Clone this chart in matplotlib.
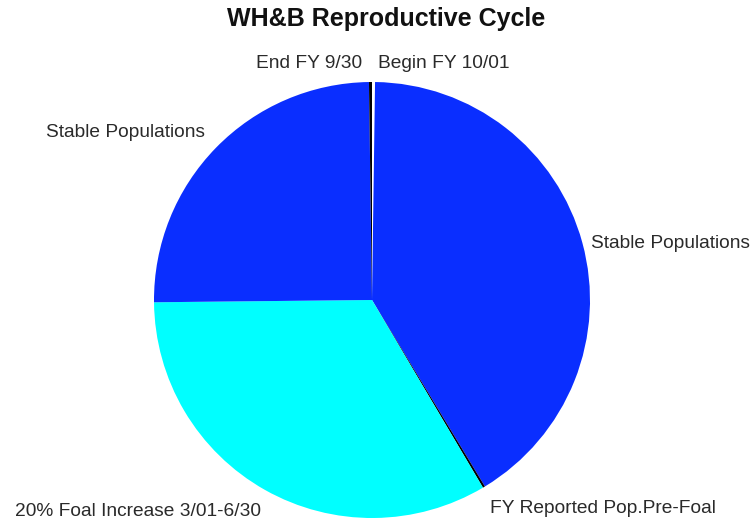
import matplotlib
matplotlib.use("Agg")
import matplotlib.pyplot as plt

plt.rcParams['font.family'] = ['Liberation Sans', 'DejaVu Sans']

labels = ["Begin FY 10/01", "Stable Populations", "FY Reported Pop.Pre-Foal",
          "20% Foal Increase 3/01-6/30", "Stable Populations", "End FY 9/30"]
values = [0.8, 148.0, 0.6, 120.0, 89.8, 0.8]
colors = ["#FFFFFF", "#0A2EFF", "#000000", "#00FFFF", "#0A2EFF", "#000000"]

W, H = 756, 519
fig = plt.figure(figsize=(W / 100, H / 100), dpi=100)
ax = fig.add_axes([0, 0, 1, 1])

R = 218.0
cx, cy = 372.0, H - 300.0

wedges, texts = ax.pie(values, labels=labels, colors=colors, startangle=90,
                       counterclock=False, labeldistance=1.06,
                       wedgeprops=dict(linewidth=0),
                       textprops=dict(fontsize=13.8, color="#2a2a2a"))
ax.set_xlim(-cx / R, (W - cx) / R)
ax.set_ylim(-cy / R, (H - cy) / R)
ax.axis('off')

# fine label offsets in pixels (dx, dy up)
offsets = [(4, 5), (-4, -4), (-1, -10), (2, -10), (-2, 6), (-8, 5)]
for t, (dx, dy) in zip(texts, offsets):
    x, y = t.get_position()
    t.set_position((x + dx / R, y + dy / R))

fig.text(386 / W, 1 - 19 / H, "WH&B Reproductive Cycle", ha="center", va="center",
         fontsize=18, fontweight="bold", color="#111111")

fig.savefig("out.png", dpi=100, facecolor="white")
